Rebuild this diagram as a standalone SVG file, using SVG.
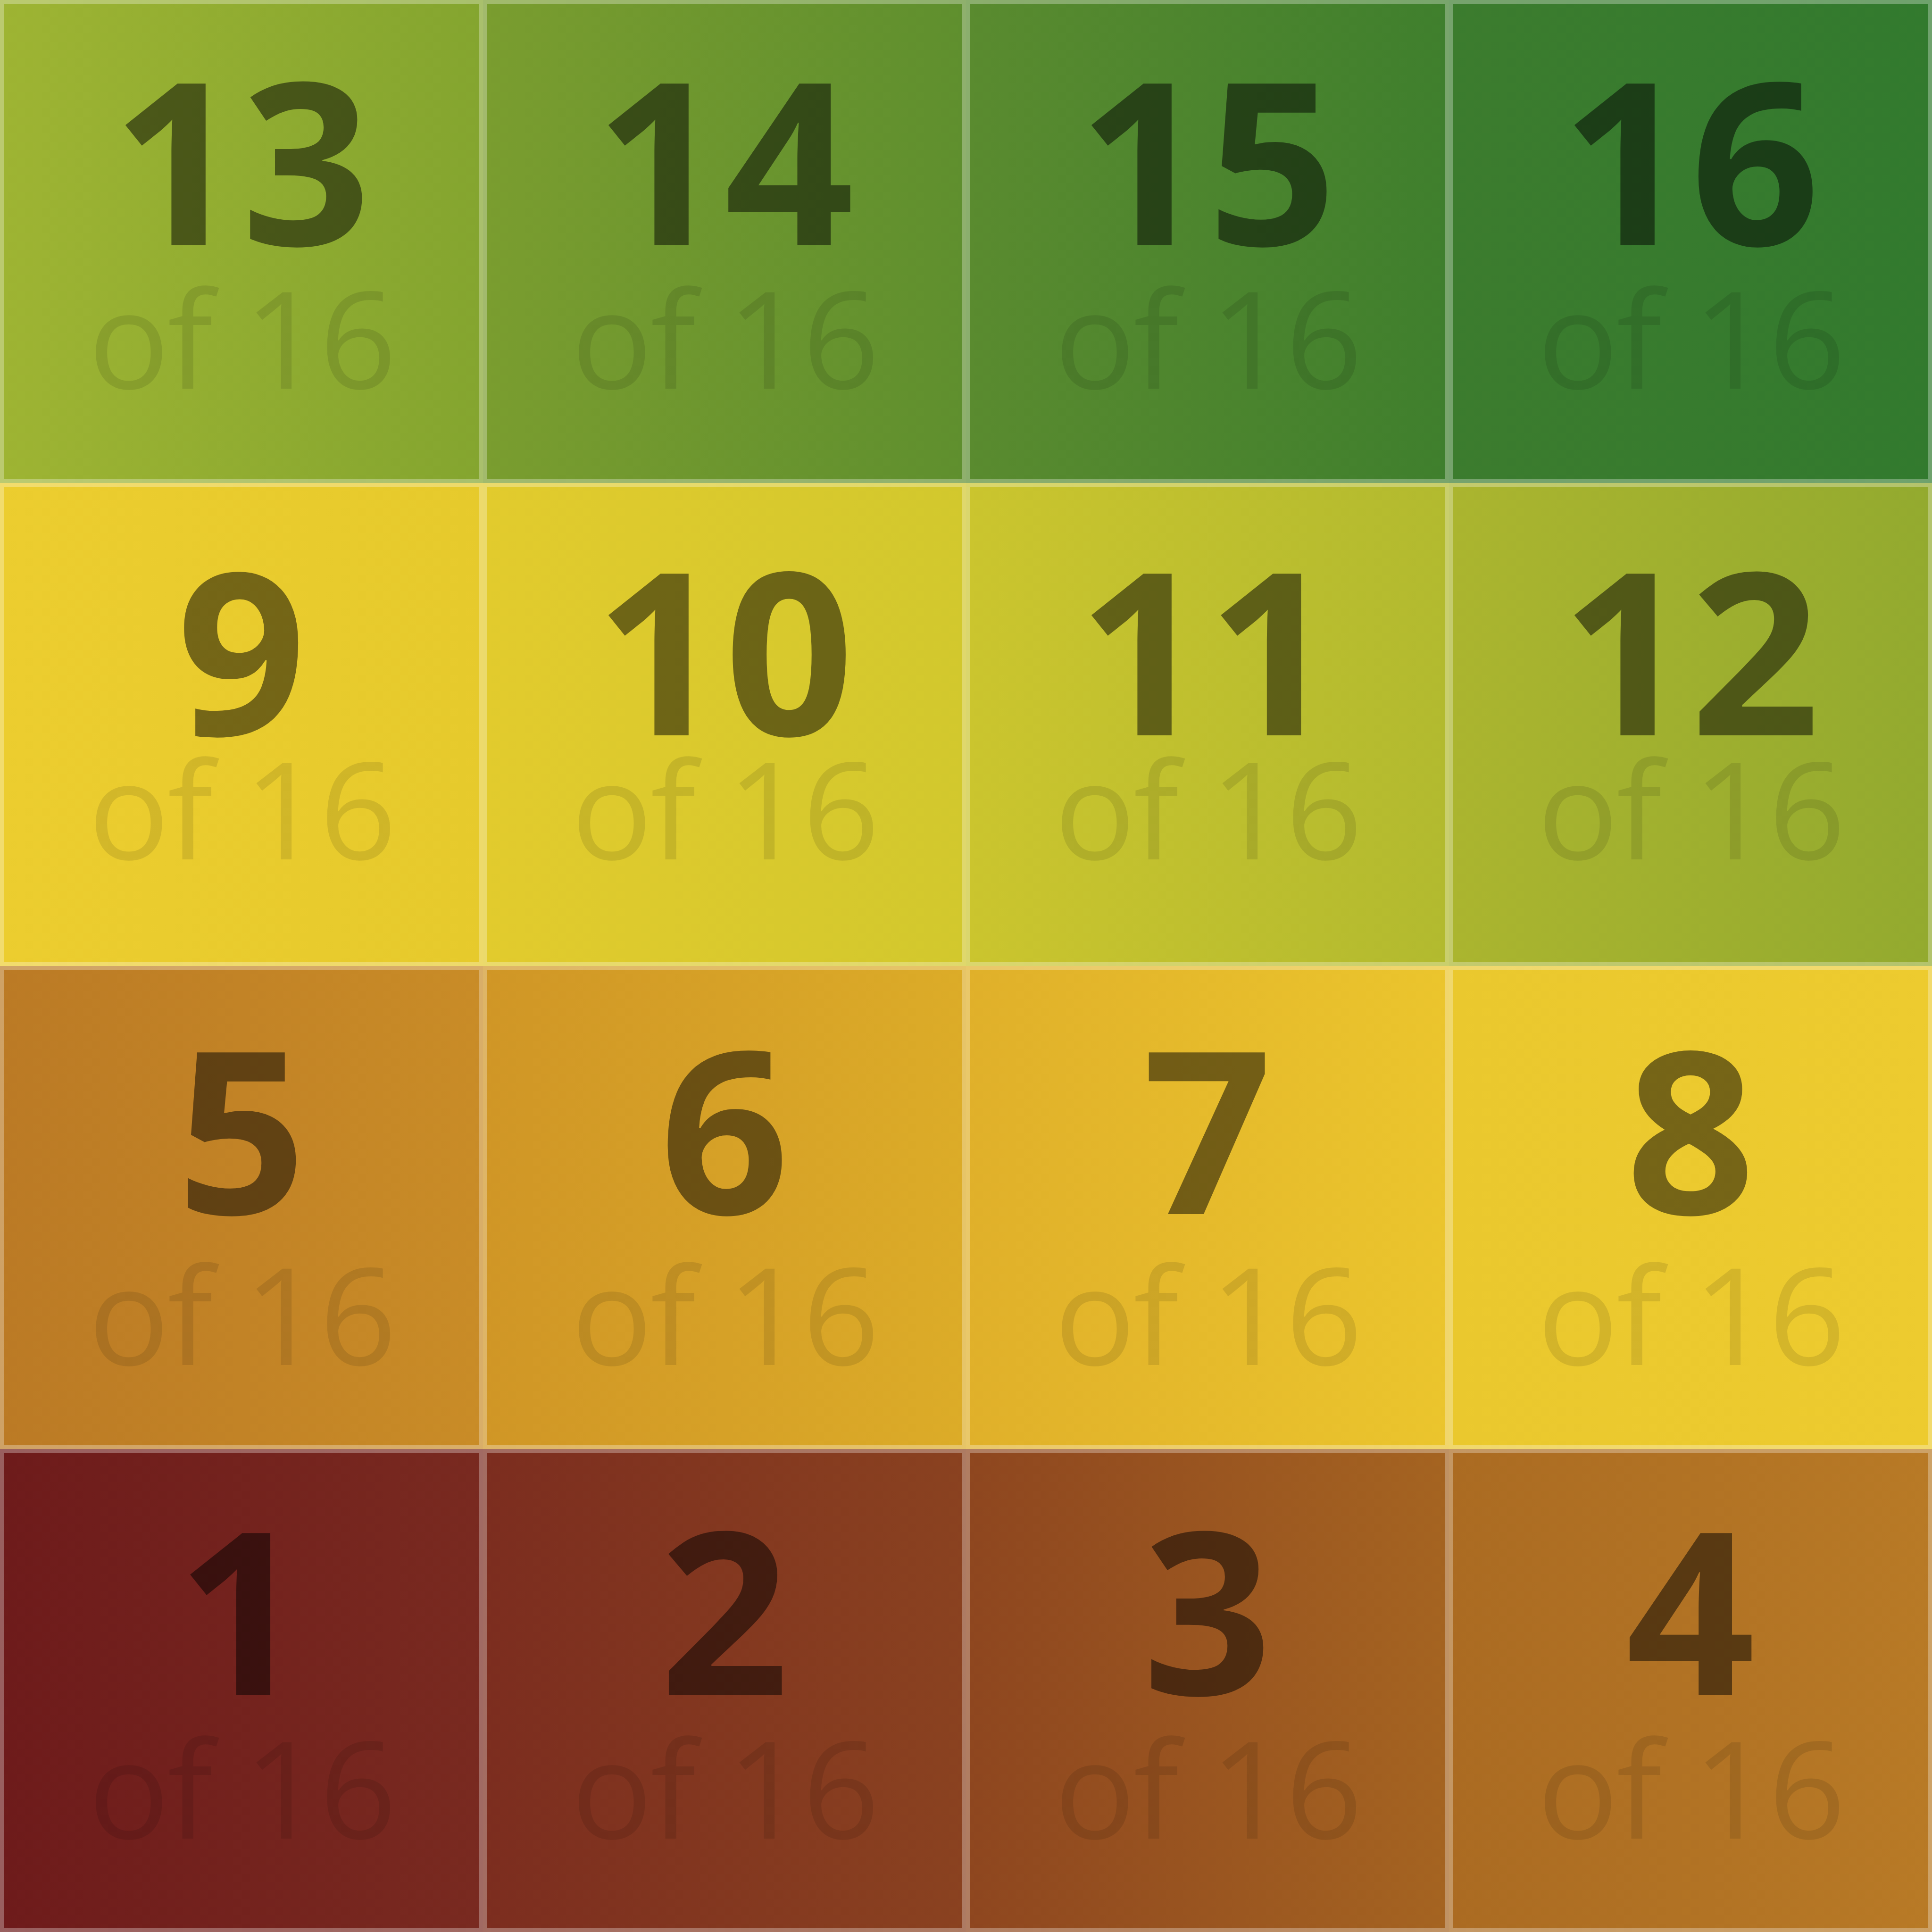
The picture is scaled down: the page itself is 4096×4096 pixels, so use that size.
<svg xmlns="http://www.w3.org/2000/svg" width="4096" height="4096" viewBox="0 0 4096 4096">
<style>
.num{font-family:"Open Sans","Noto Sans","Liberation Sans",sans-serif;font-weight:700;font-size:480px;fill:#000;fill-opacity:0.5;text-anchor:middle}
.of{font-family:"Open Sans","Noto Sans","Liberation Sans",sans-serif;font-weight:400;font-size:286px;fill:#000;fill-opacity:0.1;text-anchor:middle;letter-spacing:-4px}
.edge{fill:none;stroke:#fff;stroke-opacity:0.3;stroke-width:8}
</style>
<defs>
<linearGradient id="g1"><stop offset="0" stop-color="#6e1b1b"/><stop offset="1" stop-color="#792a20"/></linearGradient>
<linearGradient id="g2"><stop offset="0" stop-color="#7c2d1f"/><stop offset="1" stop-color="#8a4220"/></linearGradient>
<linearGradient id="g3"><stop offset="0" stop-color="#8e461f"/><stop offset="1" stop-color="#a56421"/></linearGradient>
<linearGradient id="g4"><stop offset="0" stop-color="#ab6b22"/><stop offset="1" stop-color="#b87a26"/></linearGradient>
<linearGradient id="g5"><stop offset="0" stop-color="#bb7a25"/><stop offset="1" stop-color="#c98c27"/></linearGradient>
<linearGradient id="g6"><stop offset="0" stop-color="#d09626"/><stop offset="1" stop-color="#dcac28"/></linearGradient>
<linearGradient id="g7"><stop offset="0" stop-color="#e0b02a"/><stop offset="1" stop-color="#ebc52d"/></linearGradient>
<linearGradient id="g8"><stop offset="0" stop-color="#eac82e"/><stop offset="1" stop-color="#edcb2f"/></linearGradient>
<linearGradient id="g9"><stop offset="0" stop-color="#eccd2f"/><stop offset="1" stop-color="#e6ca2c"/></linearGradient>
<linearGradient id="g10"><stop offset="0" stop-color="#e2cb2d"/><stop offset="1" stop-color="#d2c82d"/></linearGradient>
<linearGradient id="g11"><stop offset="0" stop-color="#cbc52e"/><stop offset="1" stop-color="#b2ba2f"/></linearGradient>
<linearGradient id="g12"><stop offset="0" stop-color="#abb52f"/><stop offset="1" stop-color="#93aa2f"/></linearGradient>
<linearGradient id="g13"><stop offset="0" stop-color="#9eb433"/><stop offset="1" stop-color="#84a52f"/></linearGradient>
<linearGradient id="g14"><stop offset="0" stop-color="#7a9d2f"/><stop offset="1" stop-color="#5f8f2e"/></linearGradient>
<linearGradient id="g15"><stop offset="0" stop-color="#5a8b2f"/><stop offset="1" stop-color="#3f7f2d"/></linearGradient>
<linearGradient id="g16"><stop offset="0" stop-color="#3c7c2e"/><stop offset="1" stop-color="#327a2e"/></linearGradient>
</defs>

<g id="cell-13"><rect x="0" y="0" width="1024" height="1024" fill="url(#g13)"/><rect class="edge" x="4" y="4" width="1016" height="1016"/><text class="num" x="512" y="520">13</text><text class="of" x="512" y="824">of 16</text></g>
<g id="cell-14"><rect x="1024" y="0" width="1024" height="1024" fill="url(#g14)"/><rect class="edge" x="1028" y="4" width="1016" height="1016"/><text class="num" x="1536" y="520">14</text><text class="of" x="1536" y="824">of 16</text></g>
<g id="cell-15"><rect x="2048" y="0" width="1024" height="1024" fill="url(#g15)"/><rect class="edge" x="2052" y="4" width="1016" height="1016"/><text class="num" x="2560" y="520">15</text><text class="of" x="2560" y="824">of 16</text></g>
<g id="cell-16"><rect x="3072" y="0" width="1024" height="1024" fill="url(#g16)"/><rect class="edge" x="3076" y="4" width="1016" height="1016"/><text class="num" x="3584" y="520">16</text><text class="of" x="3584" y="824">of 16</text></g>

<g id="cell-9"><rect x="0" y="1024" width="1024" height="1024" fill="url(#g9)"/><rect class="edge" x="4" y="1028" width="1016" height="1016"/><text class="num" x="512" y="1559">9</text><text class="of" x="512" y="1822">of 16</text></g>
<g id="cell-10"><rect x="1024" y="1024" width="1024" height="1024" fill="url(#g10)"/><rect class="edge" x="1028" y="1028" width="1016" height="1016"/><text class="num" x="1536" y="1559">10</text><text class="of" x="1536" y="1822">of 16</text></g>
<g id="cell-11"><rect x="2048" y="1024" width="1024" height="1024" fill="url(#g11)"/><rect class="edge" x="2052" y="1028" width="1016" height="1016"/><text class="num" x="2560" y="1559">11</text><text class="of" x="2560" y="1822">of 16</text></g>
<g id="cell-12"><rect x="3072" y="1024" width="1024" height="1024" fill="url(#g12)"/><rect class="edge" x="3076" y="1028" width="1016" height="1016"/><text class="num" x="3584" y="1559">12</text><text class="of" x="3584" y="1822">of 16</text></g>

<g id="cell-5"><rect x="0" y="2048" width="1024" height="1024" fill="url(#g5)"/><rect class="edge" x="4" y="2052" width="1016" height="1016"/><text class="num" x="512" y="2574">5</text><text class="of" x="512" y="2894">of 16</text></g>
<g id="cell-6"><rect x="1024" y="2048" width="1024" height="1024" fill="url(#g6)"/><rect class="edge" x="1028" y="2052" width="1016" height="1016"/><text class="num" x="1536" y="2574">6</text><text class="of" x="1536" y="2894">of 16</text></g>
<g id="cell-7"><rect x="2048" y="2048" width="1024" height="1024" fill="url(#g7)"/><rect class="edge" x="2052" y="2052" width="1016" height="1016"/><text class="num" x="2560" y="2574">7</text><text class="of" x="2560" y="2894">of 16</text></g>
<g id="cell-8"><rect x="3072" y="2048" width="1024" height="1024" fill="url(#g8)"/><rect class="edge" x="3076" y="2052" width="1016" height="1016"/><text class="num" x="3584" y="2574">8</text><text class="of" x="3584" y="2894">of 16</text></g>

<g id="cell-1"><rect x="0" y="3072" width="1024" height="1024" fill="url(#g1)"/><rect class="edge" x="4" y="3076" width="1016" height="1016"/><text class="num" x="512" y="3593">1</text><text class="of" x="512" y="3898">of 16</text></g>
<g id="cell-2"><rect x="1024" y="3072" width="1024" height="1024" fill="url(#g2)"/><rect class="edge" x="1028" y="3076" width="1016" height="1016"/><text class="num" x="1536" y="3593">2</text><text class="of" x="1536" y="3898">of 16</text></g>
<g id="cell-3"><rect x="2048" y="3072" width="1024" height="1024" fill="url(#g3)"/><rect class="edge" x="2052" y="3076" width="1016" height="1016"/><text class="num" x="2560" y="3593">3</text><text class="of" x="2560" y="3898">of 16</text></g>
<g id="cell-4"><rect x="3072" y="3072" width="1024" height="1024" fill="url(#g4)"/><rect class="edge" x="3076" y="3076" width="1016" height="1016"/><text class="num" x="3584" y="3593">4</text><text class="of" x="3584" y="3898">of 16</text></g>

<g id="connectors"/>
</svg>
